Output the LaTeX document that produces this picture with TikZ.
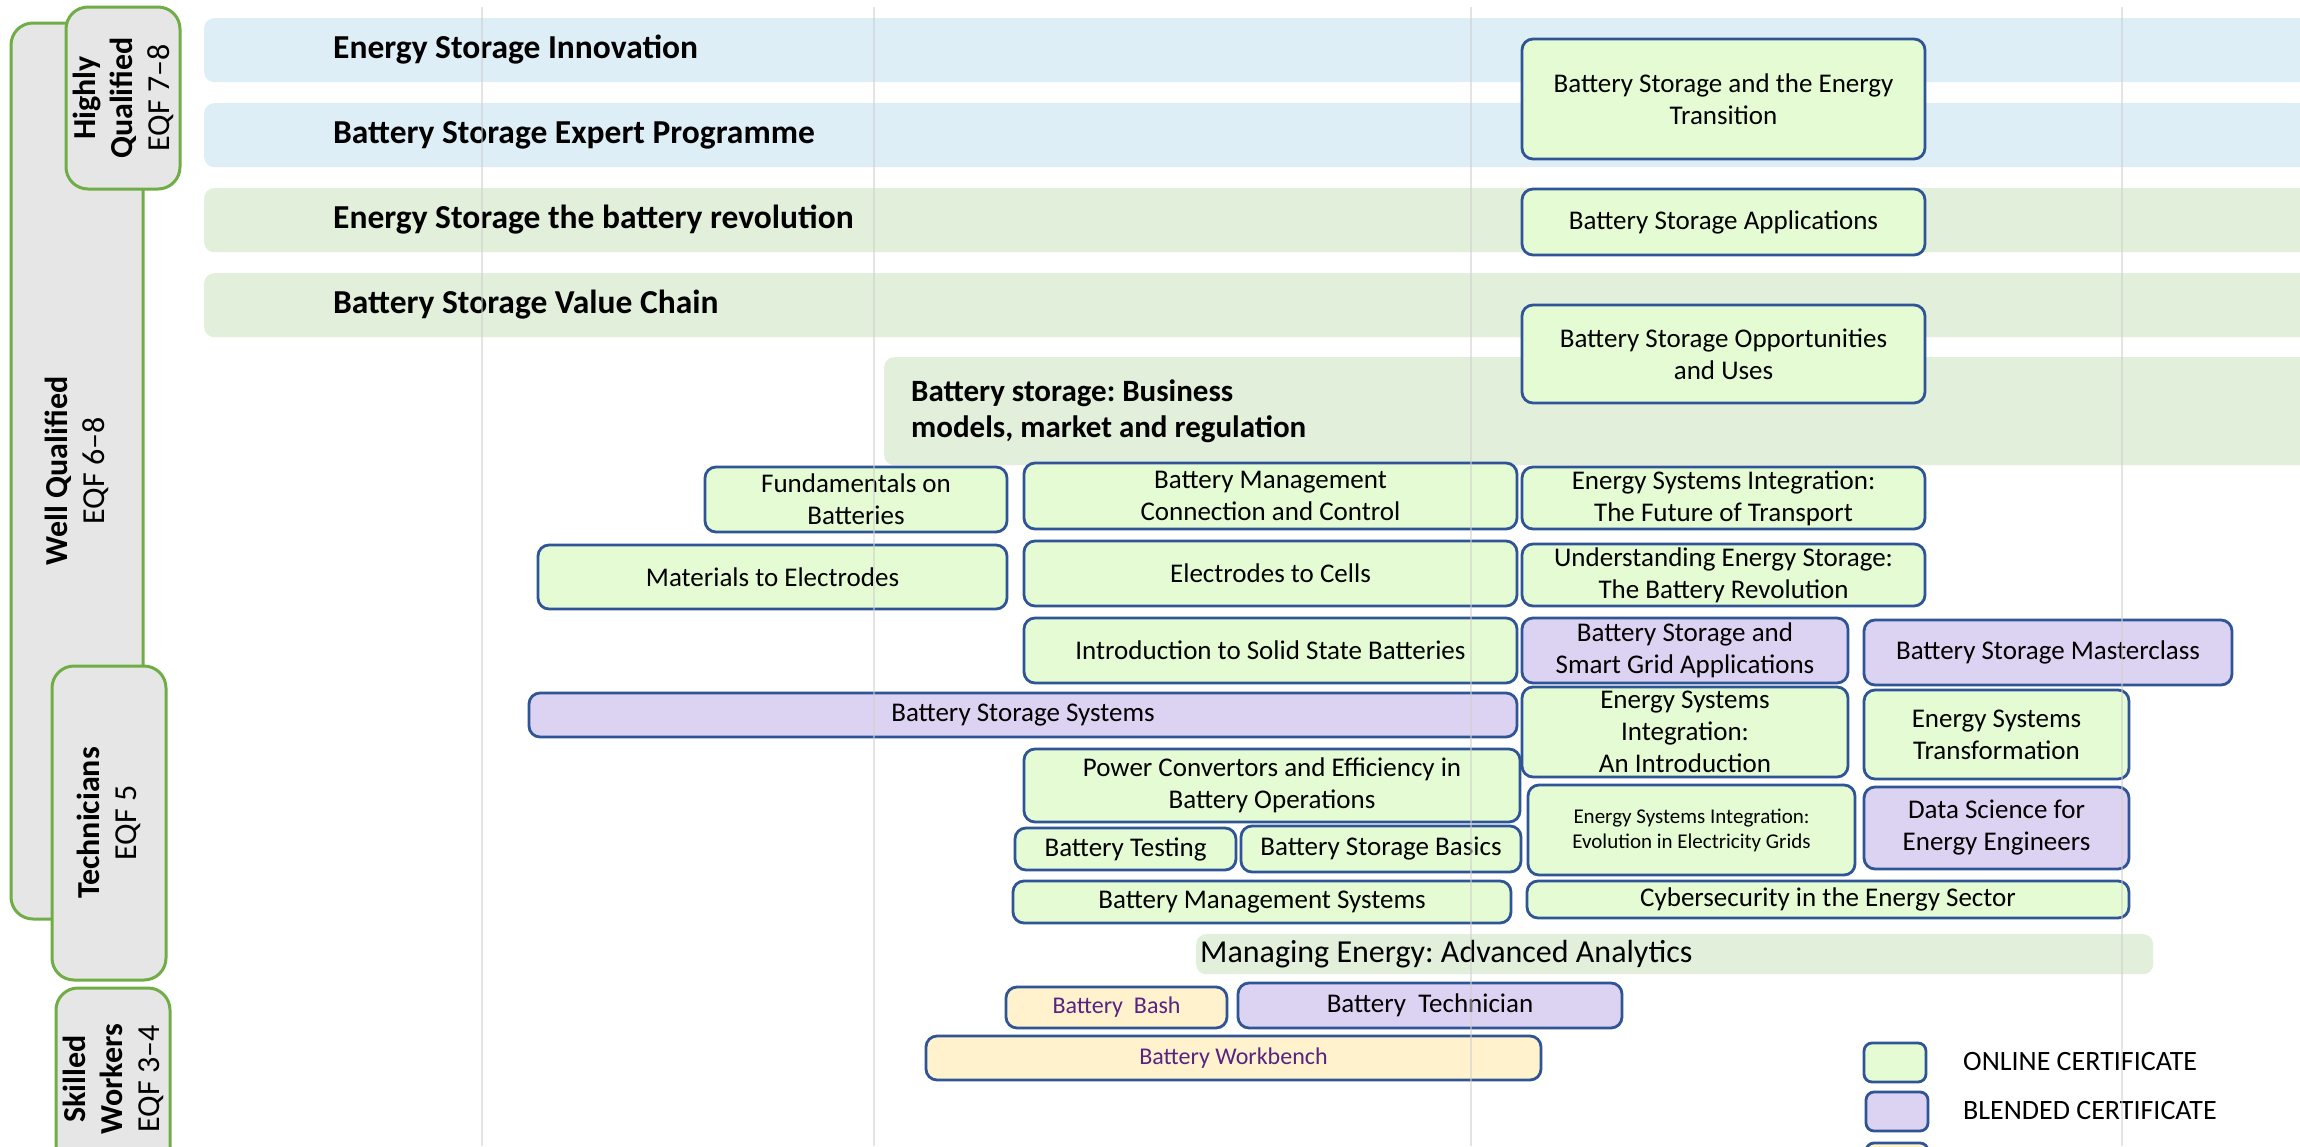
\documentclass[tikz,border=0pt]{standalone}
\usepackage{fontspec}
\setmainfont{Carlito}
\usepackage{xcolor}
\definecolor{bandblue}{HTML}{DEEEF7}
\definecolor{bandgreen}{HTML}{E2EFDA}
\definecolor{onlinefill}{HTML}{E4FBD3}
\definecolor{blendfill}{HTML}{DCD2F2}
\definecolor{ftffill}{HTML}{FFF2CC}
\definecolor{boxline}{HTML}{2F5597}
\definecolor{levelfill}{HTML}{E6E6E6}
\definecolor{levelline}{HTML}{70AD47}
\definecolor{gridgray}{HTML}{CFCFCF}
\definecolor{ftftext}{RGB}{88,35,130}
\frenchspacing

\begin{document}
\begin{tikzpicture}[x = 1pt, y = -1pt,
	course/.style = {draw = boxline, line width = 2.8pt, rounded corners = 11pt, inner sep = 0pt, align = center, font = \fontsize{27}{32}\selectfont},
	online/.style = {course, fill = onlinefill},
	blended/.style = {course, fill = blendfill},
	ftf/.style = {course, fill = ftffill, text = ftftext, font = \fontsize{24}{28}\selectfont},
	legbox/.style = {rounded corners = 8pt, minimum width = 62, minimum height = 39},
	legtext/.style = {anchor = west, inner sep = 0pt, font = \fontsize{28}{32}\selectfont},
	band/.style = {rounded corners = 10pt, inner sep = 0pt, anchor = north west},
	bandtitle/.style = {anchor = west, inner sep = 0pt, align = left, font = \bfseries\fontsize{33.5}{38}\selectfont},
	level/.style = {draw = levelline, fill = levelfill, line width = 3pt, rounded corners = 22pt, rotate = 90, inner sep = 0pt, align = center, font = \fontsize{32}{37}\selectfont},
	gridline/.style = {draw = gridgray, draw opacity = 0.55, line width = 2pt}]
	\useasboundingbox (0,0) rectangle (2300,1146);
	\fill[white] (0,0) rectangle (2300,1146);
	\clip (0,0) rectangle (2300,1146);

	\node (wellq) at (77,471) [level, minimum width = 896, minimum height = 132] {\textbf{Well Qualified}\\EQF 6--8};
	\node (highq) at (123,98) [level, minimum width = 182, minimum height = 114] {\textbf{Highly}\\\textbf{Qualified}\\EQF 7--8};
	\node (techn) at (109,823) [level, minimum width = 314, minimum height = 114] {\textbf{Technicians}\\EQF 5};
	\node (skill) at (113,1079) [level, minimum width = 182, minimum height = 114] {\textbf{Skilled}\\\textbf{Workers}\\EQF 3--4};

	\node (innovband) at (204,18) [band, fill = bandblue, minimum width = 2116, minimum height = 64] {};
	\node (expertband) at (204,103) [band, fill = bandblue, minimum width = 2116, minimum height = 64] {};
	\node (revolband) at (204,188) [band, fill = bandgreen, minimum width = 2116, minimum height = 64] {};
	\node (chainband) at (204,273) [band, fill = bandgreen, minimum width = 2116, minimum height = 64] {};
	\node (busband) at (884,357) [band, fill = bandgreen, minimum width = 1436, minimum height = 108] {};
	\node (analyband) at (1196,934) [band, fill = bandgreen, minimum width = 957, minimum height = 40] {};
	\node (innov) at (333,50) [bandtitle] {Energy Storage Innovation};
	\node (expert) at (333,135) [bandtitle] {Battery Storage Expert Programme};
	\node (revol) at (333,220) [bandtitle] {Energy Storage the battery revolution};
	\node (chain) at (333,305) [bandtitle] {Battery Storage Value Chain};
	\node (business) at (911,411) [bandtitle, font = \bfseries\fontsize{31}{36}\selectfont] {Battery storage: Business\\models, market and regulation};
	\node (analytics) at (1200,954) [bandtitle, font = \fontsize{32}{36}\selectfont] {Managing Energy: Advanced Analytics};

	\node (transition) at (1723.5,99) [online, minimum width = 403, minimum height = 120] {Battery Storage and the Energy\\Transition};
	\node (apps) at (1723.5,222) [online, minimum width = 403, minimum height = 66] {Battery Storage Applications};
	\node (opps) at (1723.5,354) [online, minimum width = 403, minimum height = 98] {Battery Storage Opportunities\\and Uses};
	\node (fundam) at (856,499.5) [online, minimum width = 302, minimum height = 65] {Fundamentals on\\Batteries};
	\node (bmcc) at (1270.5,496) [online, minimum width = 493, minimum height = 66] {Battery Management\\Connection and Control};
	\node (esitrans) at (1723.5,498) [online, minimum width = 403, minimum height = 62] {Energy Systems Integration:\\The Future of Transport};
	\node (mattoel) at (772.5,577) [online, minimum width = 469, minimum height = 64] {Materials to Electrodes};
	\node (eltocell) at (1270.5,573.5) [online, minimum width = 493, minimum height = 65] {Electrodes to Cells};
	\node (uesrev) at (1723.5,575) [online, minimum width = 403, minimum height = 62] {Understanding Energy Storage:\\The Battery Revolution};
	\node (solid) at (1270.5,650.5) [online, minimum width = 493, minimum height = 65] {Introduction to Solid State Batteries};
	\node (smartgrid) at (1685,650.5) [blended, minimum width = 326, minimum height = 65] {Battery Storage and\\Smart Grid Applications};
	\node (master) at (2048,652.5) [blended, minimum width = 368, minimum height = 65] {Battery Storage Masterclass};
	\node (bssys) at (1023,715) [blended, minimum width = 988, minimum height = 44] {Battery Storage Systems};
	\node (esiintro) at (1685,732) [online, minimum width = 326, minimum height = 90] {Energy Systems\\Integration:\\An Introduction};
	\node (estrans) at (1996.5,734.5) [online, minimum width = 265, minimum height = 89] {Energy Systems\\Transformation};
	\node (powconv) at (1272,785.5) [online, minimum width = 496, minimum height = 73] {Power Convertors and Efficiency in\\Battery Operations};
	\node (esigrids) at (1691.5,830) [online, minimum width = 327, minimum height = 90, font = \fontsize{21}{25}\selectfont] {Energy Systems Integration:\\Evolution in Electricity Grids};
	\node (datasci) at (1996.5,828) [blended, minimum width = 265, minimum height = 82] {Data Science for\\Energy Engineers};
	\node (battest) at (1125.5,849) [online, minimum width = 221, minimum height = 42] {Battery Testing};
	\node (bsbasics) at (1381,849) [online, minimum width = 280, minimum height = 46] {Battery Storage Basics};
	\node (bms) at (1262,902) [online, minimum width = 498, minimum height = 42] {Battery Management Systems};
	\node (cyber) at (1828,899.5) [online, minimum width = 602, minimum height = 37] {Cybersecurity in the Energy Sector};
	\node (batbash) at (1116.5,1007.5) [ftf, minimum width = 221, minimum height = 41] {Battery~~Bash};
	\node (battech) at (1430,1005.5) [blended, minimum width = 384, minimum height = 45] {Battery~~Technician};
	\node (workbench) at (1233.5,1058) [ftf, minimum width = 615, minimum height = 44] {Battery Workbench};

	\node (legonline) at (1895,1062.5) [online, legbox] {};
	\node (legblended) at (1897,1111.5) [blended, legbox] {};
	\node (legftf) at (1897,1162.5) [ftf, legbox] {};
	\node (legonlinetext) at (1963,1061) [legtext] {ONLINE CERTIFICATE};
	\node (legblendedtext) at (1963,1110) [legtext] {BLENDED CERTIFICATE};

	\foreach \gx in {482,874,1471,2122}
		\draw[gridline] (\gx,7) -- (\gx,1146);
\end{tikzpicture}
\end{document}
